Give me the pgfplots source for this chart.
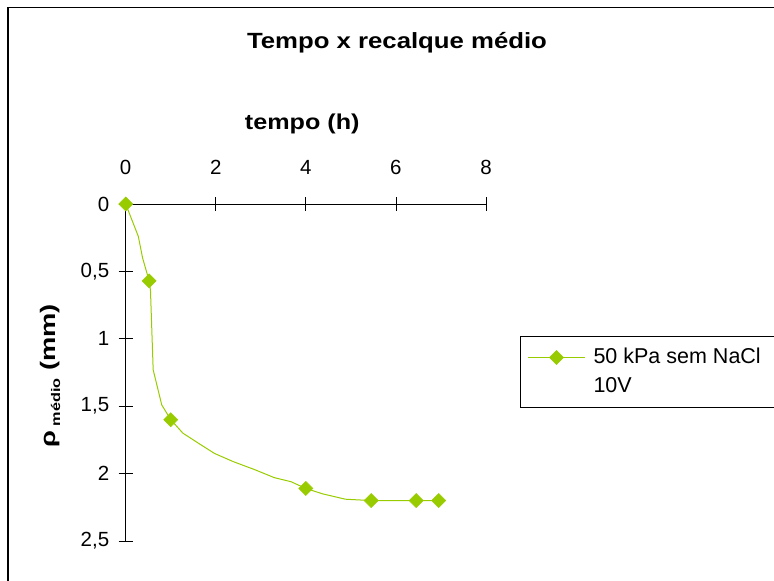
\documentclass[border=0pt]{standalone}
\usepackage{fontspec}
\setmainfont{Liberation Sans}
\usepackage{graphicx}
\usepackage{pgfplots}
\pgfplotsset{compat=1.18}

\definecolor{lime}{HTML}{99CC00}

\begin{document}
\begin{tikzpicture}
\useasboundingbox (0,0) rectangle (774bp,-581bp);
% chart border (cropped on right and bottom)
\draw[line width=1.5bp] (8bp,-700bp) -- (8bp,-7.5bp) -- (900bp,-7.5bp);
\node[font=\bfseries\fontsize{22bp}{26bp}\selectfont] at (397bp,-43bp)
  {\scalebox{1.17}[1]{Tempo x recalque médio}};

\begin{axis}[
    at={(125.7bp,-204bp)}, anchor=north west,
    scale only axis,
    width=360.3bp, height=337bp,
    xmin=0, xmax=8,
    ymin=0, ymax=2.5,
    y dir=reverse,
    axis x line=top,
    axis y line=left,
    axis line style={-, line width=1bp, black},
    xtick={0,2,4,6,8},
    ytick={0,0.5,1,1.5,2,2.5},
    tick align=center,
    major tick length=14bp,
    tick style={black, line width=0.8bp},
    clip=false,
    /pgf/number format/use comma,
    /pgf/number format/assume math mode=true,
    ticklabel style={font=\fontsize{20.5bp}{24bp}\selectfont},
    xticklabel style={yshift=19bp},
    yticklabel style={xshift=-6bp},
    xlabel={\scalebox{1.17}[1]{tempo (h)}},
    every axis x label/.style={at={(axis description cs:0.49,1)}, anchor=center, yshift=80bp,
        font=\bfseries\fontsize{21.5bp}{24bp}\selectfont},
    ylabel={\scalebox{1.3}[1]{ρ\,\raisebox{-5bp}{\fontsize{12.5bp}{14bp}\selectfont médio} (mm)}},
    every axis y label/.style={at={(axis description cs:-0.21,0.49)}, rotate=90, anchor=center,
        font=\bfseries\fontsize{21bp}{24bp}\selectfont},
    legend style={
        at={(axis description cs:1.0944,0.6083)}, anchor=north west,
        draw=black, line width=1bp,
        inner xsep=7bp, inner ysep=10.5bp,
        row sep=8bp,
        font=\fontsize{21.5bp}{26bp}\selectfont,
        nodes={inner xsep=1bp, inner ysep=0bp, text height=16bp, text depth=5bp},
    },
    legend cell align=left,
    legend image code/.code={
        \draw[#1, mark indices={2}] plot coordinates {(0bp,0bp) (28.5bp,0bp) (57bp,0bp)};
        \path (64bp,0bp);
    },
]
\addplot[
    color=lime, line width=1bp,
    mark=square*, mark size=5bp,
    mark options={rotate=45, fill=lime, draw=lime, line width=0.5bp},
    mark indices={1,4,8,16,19,20,21},
    ]
    coordinates {
    (0,0) (0.28,0.24) (0.375,0.40) (0.52,0.57) (0.55,0.64) (0.61,1.23) (0.80,1.49)
    (1.0,1.6) (1.27,1.70) (1.64,1.78) (1.97,1.85) (2.38,1.91) (2.86,1.97) (3.30,2.03)
    (3.67,2.06) (4.0,2.11) (4.37,2.15) (4.88,2.19) (5.45,2.2) (6.45,2.2) (6.95,2.2)
    };
\addlegendentry{\makebox[175bp][l]{50 kPa sem NaCl}}
\addlegendimage{empty legend}
\addlegendentry{10V}
\end{axis}
\end{tikzpicture}
\end{document}
